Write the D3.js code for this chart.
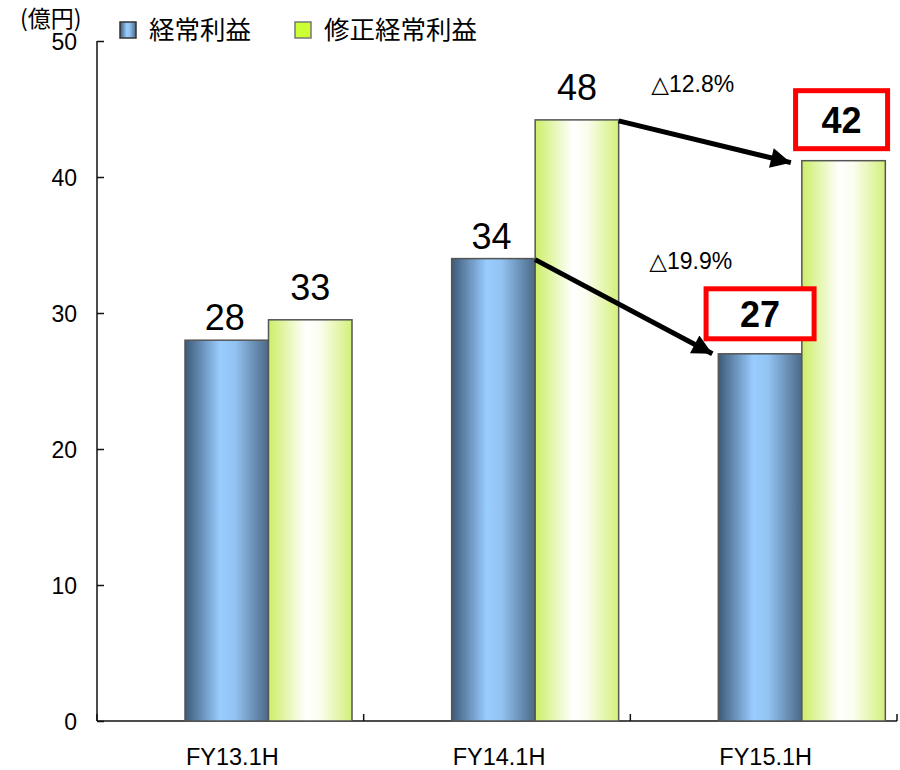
<!DOCTYPE html>
<html><head><meta charset="utf-8">
<script src="https://cdn.jsdelivr.net/npm/d3@7/dist/d3.min.js"></script>
<style>body{margin:0;background:#fff;} svg{display:block;}</style>
</head><body>
<svg id="c" width="900" height="770"></svg>
<script>
const categories = ["FY13.1H", "FY14.1H", "FY15.1H"];
const seriesNames = ["経常利益", "修正経常利益"];
const ordinaryProfit = [28.0, 34.0, 27.0];          // bar heights (億円)
const adjustedProfit = [29.5, 44.2, 41.2];          // bar heights (億円)
const ordinaryLabels = ["28", "34", "27"];
const adjustedLabels = ["33", "48", "42"];
const yTicks = [0, 10, 20, 30, 40, 50];
const changeLabels = ["△12.8%", "△19.9%"];
const unitLabel = "(億円)";

const svg = d3.select("#c");
const NUM = "'Liberation Sans', Arial, 'DejaVu Sans', sans-serif";
const JP = "'Noto Sans CJK JP', 'Noto Sans', sans-serif";

const y = d3.scaleLinear().domain([0, 50]).range([721, 41]);
const x0 = d3.scaleBand().domain(categories).range([97, 897]).paddingInner(0).paddingOuter(0);
const x1 = d3.scaleBand().domain(seriesNames).range([88, 255]);

const defs = svg.append("defs");
const gB = defs.append("linearGradient").attr("id", "gBlue").attr("x1", 0).attr("x2", 1).attr("y1", 0).attr("y2", 0);
[["0%", "#3d5a78"], ["42%", "#99ccff"], ["60%", "#92c3f2"], ["100%", "#4b6886"]].forEach(s => gB.append("stop").attr("offset", s[0]).attr("stop-color", s[1]));
const gG = defs.append("linearGradient").attr("id", "gGreen").attr("x1", 0).attr("x2", 1).attr("y1", 0).attr("y2", 0);
[["0%", "#cdee68"], ["45%", "#ffffff"], ["62%", "#fafdee"], ["100%", "#d3f07a"]].forEach(s => gG.append("stop").attr("offset", s[0]).attr("stop-color", s[1]));
defs.append("marker").attr("id", "arr").attr("viewBox", "0 0 10 10").attr("refX", 10).attr("refY", 5)
  .attr("markerWidth", 4.6).attr("markerHeight", 4).attr("markerUnits", "strokeWidth").attr("orient", "auto")
  .append("path").attr("d", "M0,0 L10,5 L0,10 Z").attr("fill", "#000");

// axes
const yAxis = d3.axisRight(y).tickValues(yTicks).tickSize(7).tickFormat("");
const gy = svg.append("g").attr("transform", "translate(97,0)").call(yAxis);
gy.selectAll("path, line").attr("stroke", "#111").attr("stroke-width", 1.5);
gy.select(".domain").attr("d", `M0,${y(0)}V${y(50)}`);
svg.append("g").selectAll("text").data(yTicks).join("text")
  .attr("x", 77).attr("y", d => y(d) + 1).attr("dy", "0.36em").attr("text-anchor", "end")
  .attr("font-family", NUM).attr("font-size", 23).attr("fill", "#000").text(d => d);

const boundaries = categories.map(c => x0(c)).concat([x0.range()[1]]);
const gx = svg.append("g");
gx.append("line").attr("x1", 97).attr("x2", 897).attr("y1", y(0)).attr("y2", y(0)).attr("stroke", "#111").attr("stroke-width", 1.5);
gx.selectAll("line.t").data(boundaries).join("line").attr("class", "t")
  .attr("x1", d => d).attr("x2", d => d).attr("y1", y(0)).attr("y2", y(0) - 7).attr("stroke", "#111").attr("stroke-width", 1.5);
gx.selectAll("text").data(categories).join("text")
  .attr("x", d => x0(d) + x0.bandwidth() / 2 + 2).attr("y", 765).attr("text-anchor", "middle")
  .attr("font-family", NUM).attr("font-size", 23.5).attr("fill", "#000").text(d => d);

// bars
const rows = categories.map((c, i) => ({ c, i, vals: [ordinaryProfit[i], adjustedProfit[i]], labs: [ordinaryLabels[i], adjustedLabels[i]] }));
const grp = svg.append("g").selectAll("g").data(rows).join("g").attr("transform", d => `translate(${x0(d.c)},0)`);
grp.selectAll("rect").data(d => seriesNames.map((s, k) => ({ s, k, v: d.vals[k] }))).join("rect")
  .attr("x", d => x1(d.s)).attr("width", x1.bandwidth())
  .attr("y", d => y(d.v)).attr("height", d => y(0) - y(d.v))
  .attr("fill", d => d.k === 0 ? "url(#gBlue)" : "url(#gGreen)")
  .attr("stroke", "#555").attr("stroke-width", 1.5);

// value labels (first two categories plain)
const plain = rows.slice(0, 2);
svg.append("g").selectAll("g").data(plain).join("g").each(function (d) {
  const g = d3.select(this);
  seriesNames.forEach((s, k) => {
    g.append("text")
      .attr("x", x0(d.c) + x1(s) + x1.bandwidth() / 2 + (k === 0 ? -2 : 0))
      .attr("y", y(d.vals[k]) - (k === 0 ? 10 : 20))
      .attr("text-anchor", "middle").attr("font-family", NUM).attr("font-size", 36).attr("fill", "#000")
      .text(d.labs[k]);
  });
});

// boxed labels for last category
const last = rows[2];
const boxSpec = [{ w: 108, h: 50, gap: 15 }, { w: 92, h: 58, gap: 12 }];
seriesNames.forEach((s, k) => {
  const cx = x0(last.c) + x1(s) + x1.bandwidth() / 2 - (k === 1 ? 2 : 0);
  const bottom = y(last.vals[k]) - boxSpec[k].gap;
  svg.append("rect").attr("x", cx - boxSpec[k].w / 2).attr("y", bottom - boxSpec[k].h)
    .attr("width", boxSpec[k].w).attr("height", boxSpec[k].h)
    .attr("fill", "#fff").attr("stroke", "#ff0000").attr("stroke-width", 5);
  svg.append("text").attr("x", cx).attr("y", bottom - boxSpec[k].h / 2).attr("dy", "0.36em")
    .attr("text-anchor", "middle").attr("font-family", NUM).attr("font-weight", "bold").attr("font-size", 36).attr("fill", "#000")
    .text(last.labs[k]);
});

// arrows
const mid = rows[1];
const arrows = [
  { x1: x0(mid.c) + x1(seriesNames[1]) + x1.bandwidth(), y1: y(mid.vals[1]) + 1, x2: x0(last.c) + x1(seriesNames[1]) - 11, y2: y(last.vals[1]) + 2 },
  { x1: x0(mid.c) + x1(seriesNames[0]) + x1.bandwidth(), y1: y(mid.vals[0]) + 1, x2: x0(last.c) + x1(seriesNames[0]) - 6, y2: y(last.vals[0]) }
];
svg.append("g").selectAll("line").data(arrows).join("line")
  .attr("x1", d => d.x1).attr("y1", d => d.y1).attr("x2", d => d.x2).attr("y2", d => d.y2)
  .attr("stroke", "#000").attr("stroke-width", 5).attr("marker-end", "url(#arr)");

// change labels
svg.append("text").attr("x", x0(last.c) + 21).attr("y", y(mid.vals[1]) - 28)
  .attr("font-family", NUM).attr("font-size", 23).attr("fill", "#000").text(changeLabels[0]);
svg.append("text").attr("x", x0(last.c) + 19).attr("y", y(mid.vals[0]) + 10)
  .attr("font-family", NUM).attr("font-size", 23).attr("fill", "#000").text(changeLabels[1]);

// unit label
svg.append("text").attr("x", 20).attr("y", 27).attr("font-family", JP).attr("font-size", 23).attr("fill", "#000").text(unitLabel);

// legend
const legend = [{ name: seriesNames[0], x: 120, fill: "url(#gBlue)", stroke: "#333" }, { name: seriesNames[1], x: 295, fill: "#ccff33", stroke: "#777" }];
const lg = svg.append("g").selectAll("g").data(legend).join("g");
lg.append("rect").attr("x", d => d.x).attr("y", 22).attr("width", 16).attr("height", 16)
  .attr("fill", d => d.fill).attr("stroke", d => d.stroke).attr("stroke-width", 1.5);
lg.append("text").attr("x", d => d.x + 29).attr("y", 30).attr("dy", "0.36em")
  .attr("font-family", JP).attr("font-size", 25.5).attr("fill", "#000").text(d => d.name);
</script>
</body></html>
